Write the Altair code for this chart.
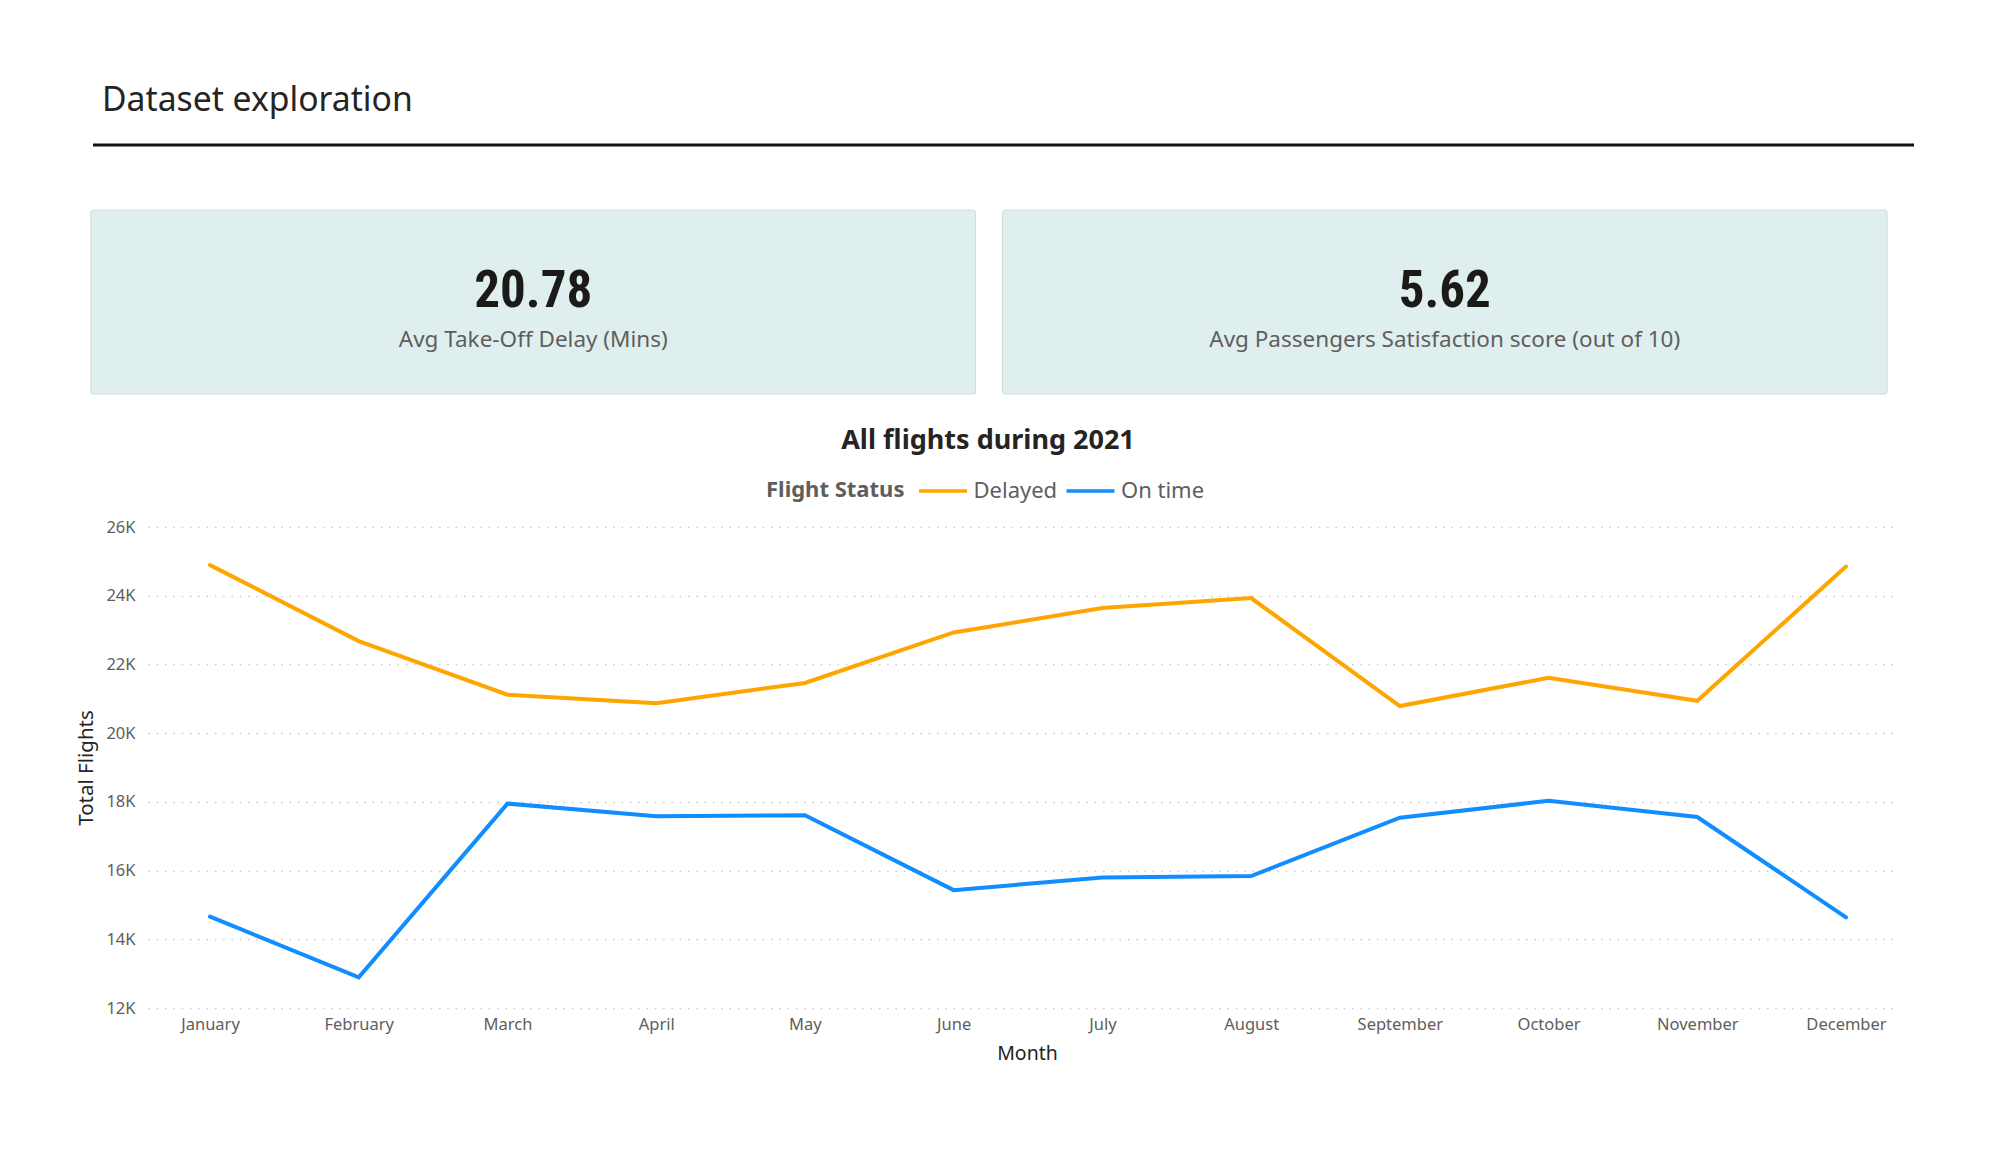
import altair as alt
import pandas as pd

# ---- data -------------------------------------------------------------
months = ["January", "February", "March", "April", "May", "June", "July",
          "August", "September", "October", "November", "December"]
statuses = ["Delayed", "On time"]
delayed_flights = [24890, 22680, 21120, 20870, 21460, 22930,
                   23640, 23930, 20790, 21610, 20940, 24850]
on_time_flights = [14660, 12890, 17950, 17580, 17610, 15430,
                   15800, 15840, 17540, 18030, 17560, 14640]
y_ticks = [12000, 14000, 16000, 18000, 20000, 22000, 24000, 26000]

kpi_labels = ["Avg Take-Off Delay (Mins)",
              "Avg Passengers Satisfaction score (out of 10)"]
kpi_values = [20.78, 5.62]

page_title = "Dataset exploration"
chart_title = "All flights during 2021"
legend_title = "Flight Status"

# ---- styling ----------------------------------------------------------
FONT = "Noto Sans"
VALUE_FONT = "Liberation Sans Narrow, Roboto Condensed, DejaVu Sans Condensed, Roboto"
DARK = "#252423"
GREY = "#605E5C"
STATUS_COLORS = ["#FFA500", "#118DFF"]

# plot area geometry (page is 1992 x 1152)
LEFT, TOP, RIGHT, BOTTOM = 148, 527, 94, 144
W, H = 1992 - LEFT - RIGHT, 1152 - TOP - BOTTOM

flights = pd.DataFrame({
    "Month": months * 2,
    "Flight Status": [statuses[0]] * len(months) + [statuses[1]] * len(months),
    "Total Flights": delayed_flights + on_time_flights,
})
kpis = pd.DataFrame({"label": kpi_labels, "value": kpi_values})
one_row = pd.DataFrame({"page": [page_title], "chart": [chart_title],
                        "legend": [legend_title]})

# ---- line chart -------------------------------------------------------
lines = alt.Chart(flights).mark_line(strokeWidth=4, strokeCap="round").encode(
    x=alt.X(
        "Month:N", sort=months,
        scale=alt.Scale(type="point", padding=0.3833, align=0.544),
        axis=alt.Axis(
            title="Month", labelAngle=0, ticks=False, tickSize=0, domain=False,
            labelFont=FONT, labelFontSize=16.5, labelColor=GREY, labelPadding=8,
            titleFont=FONT, titleFontSize=19.5, titleFontWeight="normal",
            titleColor=DARK, titleX=879, titleY=45, titleBaseline="middle",
        ),
    ),
    y=alt.Y(
        "Total Flights:Q",
        scale=alt.Scale(domain=[12000, 26000], nice=False, zero=False),
        axis=alt.Axis(
            values=y_ticks, labelExpr="datum.value / 1000 + 'K'",
            ticks=False, tickSize=0, domain=False,
            grid=True, gridColor="#C8C8C8", gridDash=[1.5, 6.8], gridWidth=1.3,
            labelFont=FONT, labelFontSize=16.5, labelColor=GREY, labelPadding=13,
            title="Total Flights", titleFont=FONT, titleFontSize=20.5,
            titleFontWeight="normal", titleColor=DARK,
            titleX=-62, titleBaseline="middle",
        ),
    ),
    color=alt.Color(
        "Flight Status:N",
        scale=alt.Scale(domain=statuses, range=STATUS_COLORS),
        legend=alt.Legend(
            title=None, orient="none", direction="horizontal",
            legendX=769, legendY=-62,
            labelFont=FONT, labelFontSize=22, labelColor=GREY, labelOffset=4.5,
            symbolType="stroke", symbolSize=2304, symbolStrokeWidth=3.5,
            columnPadding=1.5,
        ),
    ),
)

# legend heading drawn beside the legend entries
legend_heading = alt.Chart(one_row).mark_text(
    align="left", baseline="middle", font=FONT, fontSize=22,
    fontWeight="bold", color=GREY
).encode(text="legend:N", x=alt.value(766 - LEFT), y=alt.value(490 - TOP))

# ---- header -------------------------------------------------------------
header_text = alt.Chart(one_row).mark_text(
    align="left", baseline="middle", font=FONT, fontSize=33.7, color=DARK
).encode(text="page:N", x=alt.value(102 - LEFT), y=alt.value(101 - TOP))

header_rule = alt.Chart(one_row).mark_rule(color="#111111", strokeWidth=3).encode(
    x=alt.value(93 - LEFT), x2=alt.value(1914 - LEFT), y=alt.value(145 - TOP)
)

# ---- KPI cards ----------------------------------------------------------
card_scale = alt.Scale(type="band", range=[91 - LEFT, 1887 - LEFT],
                       paddingInner=0.0296, paddingOuter=0)
card_x = alt.X("label:N", sort=kpi_labels, scale=card_scale, axis=None)

cards = alt.Chart(kpis).mark_rect(
    fill="#DFEFEF", stroke="#D5DCDC", strokeWidth=1.2, cornerRadius=3
).encode(x=card_x, y=alt.value(210 - TOP), y2=alt.value(394 - TOP))

card_values = alt.Chart(kpis).mark_text(
    baseline="middle", font=VALUE_FONT, fontSize=51, fontWeight="bold", color="#1B1A19"
).encode(x=card_x, y=alt.value(292 - TOP), text=alt.Text("value:Q", format=".2f"))

card_labels = alt.Chart(kpis).mark_text(
    baseline="middle", font=FONT, fontSize=22.5, color=GREY
).encode(x=card_x, y=alt.value(340 - TOP), text="label:N")

# ---- chart title ----------------------------------------------------------
title_text = alt.Chart(one_row).mark_text(
    align="center", baseline="middle", font=FONT, fontSize=27,
    fontWeight="bold", color=DARK
).encode(text="chart:N", x=alt.value(988 - LEFT), y=alt.value(441 - TOP))

chart = alt.layer(
    cards, card_values, card_labels, header_text, header_rule, title_text,
    legend_heading, lines
).resolve_scale(x="independent").properties(
    width=W, height=H,
    autosize=alt.AutoSizeParams(type="none"),
    padding={"left": LEFT, "top": TOP, "right": RIGHT, "bottom": BOTTOM},
    background="white",
).configure_view(stroke=None)

chart.save("out.html", embed_options={"renderer": "svg", "actions": False})
